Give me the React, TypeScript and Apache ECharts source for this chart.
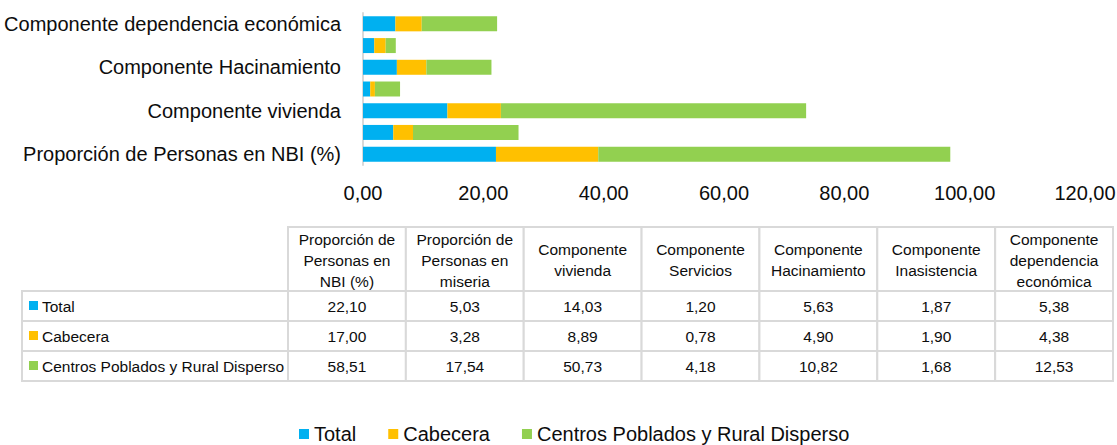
import React, { useEffect, useRef } from "react";
import * as echarts from "echarts";

const categories = [
  "Proporción de Personas en NBI (%)",
  "Proporción de Personas en miseria",
  "Componente vivienda",
  "Componente Servicios",
  "Componente Hacinamiento",
  "Componente Inasistencia",
  "Componente dependencia económica",
];
const tableHeaders = [
  "Proporción de\nPersonas en\nNBI (%)",
  "Proporción de\nPersonas en\nmiseria",
  "Componente\nvivienda",
  "Componente\nServicios",
  "Componente\nHacinamiento",
  "Componente\nInasistencia",
  "Componente\ndependencia\neconómica",
];
const seriesNames = ["Total", "Cabecera", "Centros Poblados y Rural Disperso"];
const totalValues = [22.1, 5.03, 14.03, 1.2, 5.63, 1.87, 5.38];
const cabeceraValues = [17.0, 3.28, 8.89, 0.78, 4.9, 1.9, 4.38];
const ruralValues = [58.51, 17.54, 50.73, 4.18, 10.82, 1.68, 12.53];
const xMin = 0;
const xMax = 120;
const xStep = 20;

const colors = ["#00B0F0", "#FFC000", "#92D050"];
const FONT = "'Liberation Sans', Arial, sans-serif";
const TEXT = "#0d0d0d";
const BORDER = "#d9d9d9";
const TABLE_FS = 15.5;

const fmt = (v: number) => v.toFixed(2).replace(".", ",");

function buildTable() {
  const allValues = [totalValues, cabeceraValues, ruralValues];
  const labelLeft = 22;
  const colLeft = 288;
  const colW = 117.86;
  const headTop = 227;
  const headH = 64;
  const rowH = 30;
  const els: any[] = [];
  const cellStyle = { fill: "#ffffff", stroke: BORDER, lineWidth: 2 };
  tableHeaders.forEach((h, i) => {
    els.push({
      type: "rect",
      shape: { x: colLeft + i * colW, y: headTop, width: colW, height: headH },
      style: cellStyle,
    });
  });
  allValues.forEach((vals, r) => {
    const y = headTop + headH + r * rowH;
    els.push({
      type: "rect",
      shape: { x: labelLeft, y, width: colLeft - labelLeft, height: rowH },
      style: cellStyle,
    });
    vals.forEach((_, i) => {
      els.push({
        type: "rect",
        shape: { x: colLeft + i * colW, y, width: colW, height: rowH },
        style: cellStyle,
      });
    });
  });
  tableHeaders.forEach((h, i) => {
    els.push({
      type: "text",
      style: {
        text: h,
        x: colLeft + i * colW + colW / 2,
        y: headTop + headH / 2 + 1,
        align: "center",
        verticalAlign: "middle",
        fontSize: TABLE_FS,
        lineHeight: 21,
        fontFamily: FONT,
        fill: TEXT,
      },
    });
  });
  allValues.forEach((vals, r) => {
    const cy = headTop + headH + r * rowH + rowH / 2;
    els.push({
      type: "rect",
      shape: { x: 29, y: cy - 5, width: 9, height: 9 },
      style: { fill: colors[r] },
    });
    els.push({
      type: "text",
      style: {
        text: seriesNames[r],
        x: 42,
        y: cy,
        align: "left",
        verticalAlign: "middle",
        fontSize: TABLE_FS,
        fontFamily: FONT,
        fill: TEXT,
      },
    });
    vals.forEach((v, i) => {
      els.push({
        type: "text",
        style: {
          text: fmt(v),
          x: colLeft + i * colW + colW / 2,
          y: cy,
          align: "center",
          verticalAlign: "middle",
          fontSize: TABLE_FS,
          fontFamily: FONT,
          fill: TEXT,
        },
      });
    });
  });
  return els;
}

export default function App() {
  const ref = useRef<HTMLDivElement>(null);
  useEffect(() => {
    document.body.style.margin = "0";
    if (!ref.current) return;
    const chart = echarts.init(ref.current, null, { renderer: "svg" });
    const data = [totalValues, cabeceraValues, ruralValues];
    chart.setOption({
      animation: false,
      backgroundColor: "#ffffff",
      textStyle: { fontFamily: FONT },
      grid: {
        left: 363,
        right: 32,
        top: 13,
        height: 152,
        containLabel: false,
        outerBoundsMode: "none",
      },
      xAxis: {
        type: "value",
        min: xMin,
        max: xMax,
        interval: xStep,
        axisLine: { show: false },
        axisTick: { show: false },
        splitLine: { show: false },
        axisLabel: {
          formatter: (v: number) => fmt(v),
          fontSize: 20,
          fontFamily: FONT,
          color: TEXT,
          margin: 18,
        },
      },
      yAxis: {
        type: "category",
        data: categories,
        axisLine: { show: true, lineStyle: { color: BORDER, width: 2 } },
        axisTick: { show: false },
        axisLabel: {
          interval: 1,
          fontSize: 20,
          fontFamily: FONT,
          color: TEXT,
          margin: 22,
        },
      },
      legend: {
        data: seriesNames,
        left: 294,
        top: 419,
        icon: "rect",
        itemWidth: 10,
        itemHeight: 10,
        itemGap: 32,
        textStyle: { fontSize: 20, fontFamily: FONT, color: TEXT },
      },
      series: seriesNames.map((name, i) => ({
        name,
        type: "bar",
        stack: "all",
        data: data[i],
        barCategoryGap: "31%",
        itemStyle: { color: colors[i] },
      })),
      graphic: buildTable(),
    });
    return () => chart.dispose();
  }, []);
  return <div ref={ref} style={{ width: 1117, height: 445 }} />;
}
